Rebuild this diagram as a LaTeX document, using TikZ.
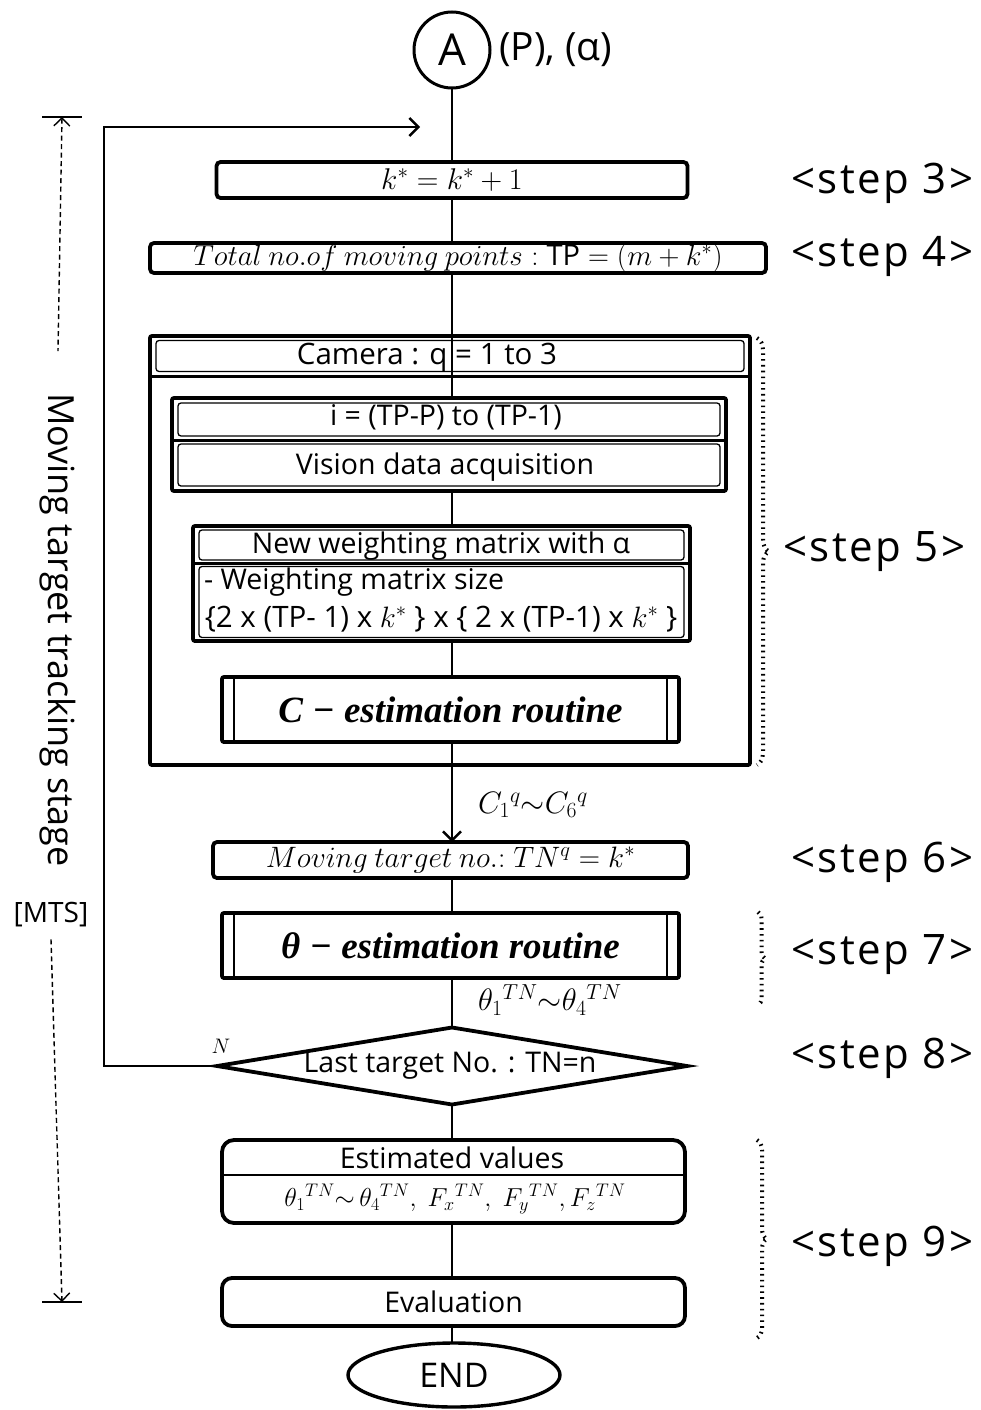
\RequirePackage{fix-cm}
\documentclass[tikz,border=0pt]{standalone}
\usepackage{fontspec}
\setmainfont{Open Sans}
\newfontfamily\routinefont{Liberation Serif}
\newfontfamily\stepfont[LetterSpace=6]{Open Sans}
\usetikzlibrary{shapes.geometric,arrows.meta,decorations.pathreplacing}
\newcommand{\setfs}[1]{\fontsize{#1}{#1}\selectfont}
\begin{document}
\begin{tikzpicture}[x=1pt,y=-1pt,
  every node/.style={inner sep=0pt,outer sep=0pt},
  box/.style={draw,line width=3.8pt,rounded corners=4pt},
  rowbox/.style={draw,line width=1.3pt,rounded corners=3pt},
  sepline/.style={line width=3pt},
  flow/.style={line width=2.4pt},
  tip/.style={-{Straight Barb[length=9pt,width=18pt,line width=2.4pt]}},
  body/.style={font=\setfs{28.5}},
  mathtxt/.style={font=\setfs{30}},
  routine/.style={font=\routinefont\bfseries\itshape\setfs{37}},
  steptxt/.style={anchor=west,font=\stepfont\setfs{42}},
  sbrace/.style={decorate,decoration={brace,amplitude=#1},line width=4pt,dash pattern=on 1.6pt off 4.2pt},
  dim/.style={line width=1.4pt,dash pattern=on 5pt off 3.5pt}
]
\useasboundingbox (0,0) rectangle (981,1410);

% entry connector
\node[circle,draw,line width=3pt,minimum size=76pt,font=\setfs{44}] (A) at (452,50) {A};
\node[anchor=west,font=\setfs{39}] (par) at (499,50) {(P), (α)};

% steps 3 and 4
\node[box,minimum width=471pt,minimum height=36pt,mathtxt] (s3) at (452,180) {$k^{*} = k^{*} + 1$};
\node[box,minimum width=616pt,minimum height=30pt,font=\setfs{29}] (s4) at (458,258) {$Total\:no.of\:moving\:points : \mathrm{TP} = (m + k^{*})$};

% step 5: camera loop
\node[box,rounded corners=2pt,minimum width=600pt,minimum height=429pt] (cam) at (450,550.5) {};
\node[rowbox,minimum width=588pt,minimum height=31pt] (camhead) at (450,356) {};
\coordinate (camsep) at (450,376);
\draw[sepline] (cam.west |- camsep) -- (cam.east |- camsep);
\node[font=\setfs{29.5}] (camtxt) at (427,357) {Camera : q = 1 to 3};

\node[box,rounded corners=2pt,minimum width=554pt,minimum height=93pt] (loop) at (449,444.5) {};
\node[rowbox,minimum width=542pt,minimum height=33pt] (loophead) at (449,419.5) {};
\node[rowbox,minimum width=542pt,minimum height=42pt] (vision) at (449,465) {};
\coordinate (loopsep) at (449,440);
\draw[sepline] (loop.west |- loopsep) -- (loop.east |- loopsep);
\node[body] (looptxt) at (446,417) {i = (TP-P) to (TP-1)};
\node[body] (visiontxt) at (445,467) {Vision data acquisition};

\node[box,rounded corners=2pt,minimum width=497pt,minimum height=115pt] (wm) at (441.5,583.5) {};
\node[rowbox,minimum width=485pt,minimum height=30pt] (wmhead) at (441.5,545) {};
\node[rowbox,minimum width=485pt,minimum height=71pt] (wmbody) at (441.5,602) {};
\coordinate (wmsep) at (441.5,563);
\draw[sepline] (wm.west |- wmsep) -- (wm.east |- wmsep);
\node[body] (wmtxt) at (441,546) {New weighting matrix with α};
\node[body,anchor=west] (wmsize) at (204,582) {- Weighting matrix size};
\node[font=\setfs{29.5}] (wmdim) at (441,619) {\{2 x (TP- 1) x $k^{*}$ \} x \{ 2 x (TP-1) x $k^{*}$ \}};

\node[box,rounded corners=2pt,minimum width=457pt,minimum height=65pt,routine] (cest) at (450.5,709.5) {C − estimation routine};
\draw[line width=2pt] ([xshift=12pt]cest.north west) -- ([xshift=12pt]cest.south west);
\draw[line width=2pt] ([xshift=-12pt]cest.north east) -- ([xshift=-12pt]cest.south east);

% steps 6 and 7
\node[box,minimum width=475pt,minimum height=36pt,font=\setfs{29.5}] (s6) at (450.5,860) {$Moving\:target\:no.{:}\ TN^{q} = k^{*}$};
\node[box,rounded corners=2pt,minimum width=457pt,minimum height=65pt,routine] (s7) at (450.5,945.5) {θ − estimation routine};
\draw[line width=2pt] ([xshift=12pt]s7.north west) -- ([xshift=12pt]s7.south west);
\draw[line width=2pt] ([xshift=-12pt]s7.north east) -- ([xshift=-12pt]s7.south east);

% step 8: decision
\node[diamond,draw,line width=3.8pt,aspect=6,minimum width=470pt,minimum height=77pt] (dec) at (452,1066) {};
\node[body] (dectxt) at (450,1066) {Last target No. : TN=n};
\node[font=\setfs{21}] (nlbl) at (221,1046) {$N$};

% step 9: results
\node[box,rounded corners=12pt,minimum width=463pt,minimum height=83pt] (est) at (453.5,1181.5) {};
\coordinate (estsep) at (453.5,1175);
\draw[line width=2pt] (est.west |- estsep) -- (est.east |- estsep);
\node[body] (esttxt) at (452,1158) {Estimated values};
\node[font=\setfs{26}] (estval) at (455,1199) {$\theta_1{}^{TN}{\sim}\,\theta_4{}^{TN},\ F_x{}^{TN},\ F_y{}^{TN}, F_z{}^{TN}$};
\node[box,rounded corners=10pt,minimum width=463pt,minimum height=48pt,body] (ev) at (453.5,1302) {Evaluation};
\node[ellipse,draw,line width=3.4pt,minimum width=212pt,minimum height=64pt,font=\setfs{34}] (endn) at (454,1375) {END};

% main flow
\draw[flow] (A.south) -- (A.south |- s3.north);
\draw[flow] (A |- s3.south) -- (A |- s4.north);
\draw[flow] (A |- s4.south) -- (A |- loop.north);
\draw[flow] (A |- loop.south) -- (A |- wm.north);
\draw[flow] (A |- wm.south) -- (A |- cest.north);
\draw[flow,tip] (A |- cest.south) -- (A |- s6.north);
\draw[flow] (A |- s6.south) -- (A |- s7.north);
\draw[flow] (A |- s7.south) -- (dec.north);
\draw[flow] (dec.south) -- (A |- est.north);
\draw[flow] (A |- est.south) -- (A |- ev.north);
\draw[flow] (A |- ev.south) -- (A |- endn.north);

% return branch
\coordinate (ret) at (420,127);
\draw[flow,tip] (dec.west) -- ++(-113,0) |- (ret);

% edge labels
\node[anchor=west,font=\setfs{31}] (clbl) at (478,805) {$C_1{}^{q}{\sim}C_6{}^{q}$};
\node[anchor=west,font=\setfs{31}] (tlbl) at (478,1000) {$\theta_1{}^{TN}{\sim}\theta_4{}^{TN}$};

% step labels with dotted braces
\node[steptxt] (l3) at (791,183) {<step 3>};
\node[steptxt] (l4) at (791,256) {<step 4>};
\draw[sbrace=12pt] (757,338) -- (757,765);
\node[steptxt] (l5) at (783,552) {<step 5>};
\node[steptxt] (l6) at (791,862) {<step 6>};
\draw[sbrace=7pt] (758,912) -- (758,1005);
\node[steptxt] (l7) at (791,955) {<step 7>};
\node[steptxt] (l8) at (791,1058) {<step 8>};
\draw[sbrace=10pt] (757,1140) -- (757,1338);
\node[steptxt] (l9) at (791,1246) {<step 9>};

% stage dimension on the left
\coordinate (dtop) at (62,117);
\coordinate (dbot) at (62,1302);
\draw[line width=1.4pt] ([xshift=-20pt]dtop) -- ([xshift=20pt]dtop);
\draw[line width=1.4pt] ([xshift=-20pt]dbot) -- ([xshift=20pt]dbot);
\node[rotate=-90,font=\setfs{36}] (mts) at (58,630) {Moving target tracking stage};
\node[font=\setfs{28}] (mtsb) at (51,915) {[MTS]};
\draw[dim,{Straight Barb[length=8pt,width=16pt,line width=1.4pt]}-] (dtop) -- ([yshift=42pt]mts.west);
\draw[dim,-{Straight Barb[length=8pt,width=16pt,line width=1.4pt]}] ([yshift=-12pt]mtsb.south) -- (dbot);
\end{tikzpicture}
\end{document}
